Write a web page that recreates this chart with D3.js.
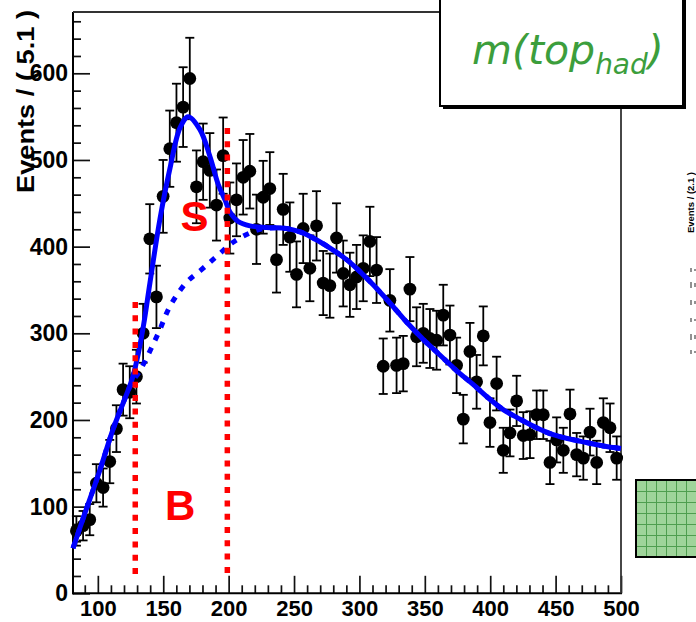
<!DOCTYPE html>
<html>
<head>
<meta charset="utf-8">
<script src="https://cdn.jsdelivr.net/npm/d3@7"></script>
<style>
html,body{margin:0;padding:0;background:#fff;}
svg{display:block;}
</style>
</head>
<body>
<svg id="chart" width="696" height="622"></svg>
<script>
// ---- data ----
const binMass = [83.6,88.7,93.8,98.9,104.0,109.1,114.2,119.3,124.4,129.5,
 134.6,139.7,144.8,149.9,155.0,160.1,165.2,170.3,175.4,180.5,
 185.6,190.7,195.8,200.9,206.0,211.1,216.2,221.3,226.4,231.5,
 236.6,241.7,246.8,251.9,257.0,262.1,267.2,272.3,277.4,282.5,
 287.6,292.7,297.8,302.9,308.0,313.1,318.2,323.3,328.4,333.5,
 338.6,343.7,348.8,353.9,359.0,364.1,369.2,374.3,379.4,384.5,
 389.6,394.7,399.8,404.9,410.0,415.1,420.2,425.3,430.4,435.5,
 440.6,445.7,450.8,455.9,461.0,466.1,471.2,476.3,481.4,486.5,
 491.6,496.7];
const events = [72,78,85,127,122,152,190,235,232,250,
 300,409,342,458,513,543,561,594,469,498,
 488,448,505,433,454,480,487,420,457,467,
 385,443,411,368,421,375,424,358,355,410,
 369,356,365,375,406,373,262,338,263,265,
 351,296,300,294,292,321,298,263,201,279,
 244,297,197,242,165,185,222,182,183,206,
 206,151,177,165,207,160,156,186,151,197,
 191,156];
const errors = [17,17,18,22,22,25,27,30,30,31,
 34,40,36,42,44,45,46,47,42,44,
 43,41,44,41,42,43,43,40,42,42,
 38,41,40,38,40,38,40,37,37,40,
 38,37,37,38,40,38,32,36,32,32,
 37,34,34,34,34,35,34,32,28,33,
 31,34,28,31,26,27,29,27,27,28,
 28,25,26,26,28,25,25,27,25,28,
 28,25];
// total fit (solid)
const fitMass  = [81,90,100,111.8,120,126,130,135,139.8,147.5,155.1,162.8,169.1,178.1,185.7,192,197.2,201,207.3,216.3,229,244.3,254.6,264.6,279.9,290.2,297.8,310.5,323.3,336,348.7,361.5,374.2,386.9,399.7,409.9,422.7,435.4,448.1,460.8,473.6,486.3,500];
const fitValue = [52,92,135,190,222,246,270,310,358,432,490,537,550,535,504,472,454,440,429,424,422,421,417,410,396,385,375,356,335,313,293,275,257,241,224,212,201,191,183,178,174,170,167];
// background component (dashed)
const bkgMass  = [81,90,100,111.8,120,126,132.2,146.2,155.1,167.9,178.1,185.7,193.3,202.3,213.7,224,232,244.3,254.6,264.6,279.9,290.2,297.8,310.5,323.3,336,348.7,361.5,374.2,386.9,399.7,409.9,422.7,435.4,448.1,460.8,473.6,486.3,500];
const bkgValue = [52,92,135,190,222,243,257,300,331,359,372,382,392,404,414,420,421.5,421,417,410,396,385,375,356,335,313,293,275,257,241,224,212,201,191,183,178,174,170,167];
const windowEdges = [128.6, 199];
const xMajorTicks = [100,150,200,250,300,350,400,450,500];
const yMajorTicks = [0,100,200,300,400,500,600];
const yTitle = "Events / ( 5.1 )";
const boxTitle = ["m(top", "had", ")"];
const regionLabels = [{t:"S", m:174, v:418}, {t:"B", m:163, v:85}];
const rightTitle = "Events / (2.1 )";

// ---- drawing ----
const svg = d3.select("#chart");
svg.append("rect").attr("width",696).attr("height",622).attr("fill","#fff");

const L = 73, R = 621, T = 12, B = 593.3;
const x = d3.scaleLinear().domain([81, 500]).range([L, R]);
const y = d3.scaleLinear().domain([0, 600]).range([B, B - 520]);

const font = "'Liberation Sans', Arial, sans-serif";

// minor ticks
const xMinor = d3.range(90, 500, 10).filter(v => v % 50 !== 0);
const yMinor = d3.range(20, 670, 20).filter(v => v % 100 !== 0);

const gxm = svg.append("g").attr("transform",`translate(0,${B})`)
  .call(d3.axisBottom(x).tickValues(xMinor).tickSize(-8).tickSizeOuter(0).tickFormat(""));
const gx = svg.append("g").attr("transform",`translate(0,${B})`)
  .call(d3.axisBottom(x).tickValues(xMajorTicks).tickSize(-17.5).tickSizeOuter(0).tickPadding(7.5));
const gym = svg.append("g").attr("transform",`translate(${L},0)`)
  .call(d3.axisLeft(y).tickValues(yMinor).tickSize(-8).tickSizeOuter(0).tickFormat(""));
const gy = svg.append("g").attr("transform",`translate(${L},0)`)
  .call(d3.axisLeft(y).tickValues(yMajorTicks).tickSize(-17).tickSizeOuter(0).tickPadding(5));
[gxm,gx,gym,gy].forEach(g => {
  g.select(".domain").remove();
  g.selectAll(".tick line").attr("stroke","#111").attr("stroke-width",1.7);
  g.selectAll(".tick text").attr("font-family",font).attr("font-weight","bold")
    .attr("font-size",23).attr("fill","#000");
});
gx.selectAll(".tick text").attr("font-size",22);

// frame
svg.append("line").attr("x1",L).attr("x2",L).attr("y1",T).attr("y2",B+1).attr("stroke","#000").attr("stroke-width",2);
svg.append("line").attr("x1",L-1).attr("x2",R+1).attr("y1",B).attr("y2",B).attr("stroke","#000").attr("stroke-width",2);
svg.append("line").attr("x1",L).attr("x2",445).attr("y1",T).attr("y2",T).attr("stroke","#333").attr("stroke-width",1.8);
svg.append("line").attr("x1",R).attr("x2",R).attr("y1",100).attr("y2",B).attr("stroke","#333").attr("stroke-width",1.8);

// data points
const pts = svg.append("g");
binMass.forEach((m,i) => {
  const cx = x(m), v = events[i], e = errors[i];
  pts.append("line").attr("x1",cx).attr("x2",cx).attr("y1",y(v+e)).attr("y2",y(v-e))
    .attr("stroke","#000").attr("stroke-width",1.8);
  [v+e, v-e].forEach(w => pts.append("line").attr("x1",cx-4.5).attr("x2",cx+4.5)
    .attr("y1",y(w)).attr("y2",y(w)).attr("stroke","#000").attr("stroke-width",1.8));
  pts.append("circle").attr("cx",cx).attr("cy",y(v)).attr("r",6.4).attr("fill","#000");
});

// curves
const line = d3.line().x(d => x(d[0])).y(d => y(d[1])).curve(d3.curveCatmullRom.alpha(0.5));
svg.append("path").datum(bkgMass.map((m,i)=>[m,bkgValue[i]]))
  .attr("d",line).attr("fill","none").attr("stroke","#0000ff").attr("stroke-width",5)
  .attr("stroke-dasharray","6,8");
svg.append("path").datum(fitMass.map((m,i)=>[m,fitValue[i]]))
  .attr("d",line).attr("fill","none").attr("stroke","#0000ff").attr("stroke-width",5);

// window lines
const wTop = [302, 128];
windowEdges.forEach((m,i) => {
  svg.append("line").attr("x1",x(m)).attr("x2",x(m)).attr("y1",wTop[i]).attr("y2",578)
    .attr("stroke","#ff0000").attr("stroke-width",5.5).attr("stroke-dasharray","6,7.3");
});

// S / B
regionLabels.forEach(d => {
  svg.append("text").attr("x",x(d.m)).attr("y",y(d.v)).attr("text-anchor","middle")
    .attr("font-family",font).attr("font-weight","bold").attr("font-size",42)
    .attr("fill","#ff0000").text(d.t);
});

// y title
svg.append("text").attr("transform","translate(34,193) rotate(-90)")
  .attr("font-family",font).attr("font-weight","bold").attr("font-size",24)
  .attr("textLength",183).attr("lengthAdjust","spacingAndGlyphs")
  .attr("fill","#000").text(yTitle);

// title box
svg.append("rect").attr("x",443).attr("y",-10).attr("width",243).attr("height",119).attr("fill","#000");
svg.append("rect").attr("x",440).attr("y",-10).attr("width",243).attr("height",116)
  .attr("fill","#fff").attr("stroke","#000").attr("stroke-width",2);
const tt = svg.append("text").attr("x",472).attr("y",64)
  .attr("font-family","'DejaVu Sans', Verdana, sans-serif").attr("font-style","italic")
  .attr("font-size",41).attr("fill","#3c9e3c");
tt.append("tspan").text(boxTitle[0]);
tt.append("tspan").attr("font-size",28).attr("dy",10).text(boxTitle[1]);
tt.append("tspan").attr("dy",-10).text(boxTitle[2]);

// right partial panel
svg.append("text").attr("transform","translate(694,233) rotate(-90)")
  .attr("font-family",font).attr("font-weight","bold").attr("font-size",9)
  .attr("textLength",61).attr("lengthAdjust","spacingAndGlyphs")
  .attr("fill","#000").text(rightTitle);
const marks = svg.append("g").attr("stroke","#222").attr("stroke-width",1);
[[268,272],[282,288],[300,305],[318,322],[334,340],[350,354]].forEach(([a,b]) => {
  marks.append("line").attr("x1",691).attr("x2",691).attr("y1",a).attr("y2",b);
  marks.append("line").attr("x1",695).attr("x2",695).attr("y1",a+1).attr("y2",b-1);
});
const defs = svg.append("defs");
const pat = defs.append("pattern").attr("id","grid").attr("patternUnits","userSpaceOnUse")
  .attr("width",10).attr("height",11).attr("x",636).attr("y",480);
pat.append("rect").attr("width",10).attr("height",11).attr("fill","#9fd49a");
pat.append("path").attr("d","M0,0.5H10M0.5,0V11").attr("stroke","#4f9e4f").attr("stroke-width",1);
svg.append("rect").attr("x",636).attr("y",480).attr("width",70).attr("height",77)
  .attr("fill","url(#grid)").attr("stroke","#000").attr("stroke-width",2);
</script>
</body>
</html>
